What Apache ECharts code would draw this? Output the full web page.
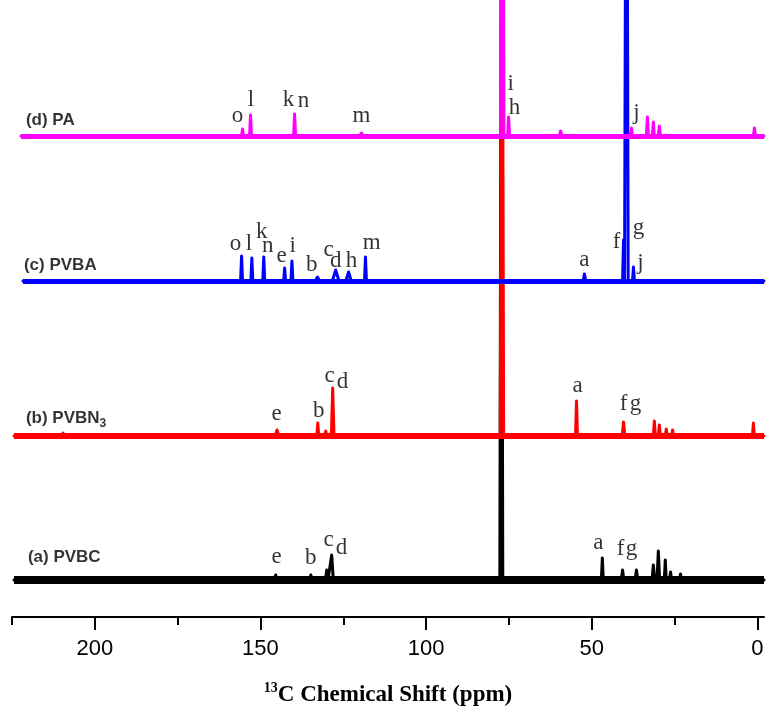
<!DOCTYPE html>
<html><head><meta charset="utf-8">
<script src="https://cdn.jsdelivr.net/npm/echarts@6/dist/echarts.min.js"></script>
<style>html,body{margin:0;padding:0;background:#fff}#c{width:766px;height:717px}</style>
</head><body><div id="c"></div>
<script>
// ---- axis ----
const xMajorTicks = [0, 50, 100, 150, 200];
const xMinorTicks = [25, 75, 125, 175, 225];
const xMin = -2, xMax = 225;

// ---- spectra: baseline offset (stack units), start ppm, peaks [ppm, height, halfWidth] ----
const baseA = 37,  startA = 224.4;   // (a) PVBC
const baseB = 181, startB = 224.4;   // (b) PVBN3
const baseC = 336, startC = 221.7;   // (c) PVBA
const baseD = 481, startD = 222.3;   // (d) PA

const peaksA = [[145.4,5,0.5],[134.8,5,0.5],[130,10,0.4],[128.5,25,0.5],[77.3,700,0.45],[46.8,22,0.3],[40.7,10,0.4],[36.5,10,0.4],[31.4,15,0.4],[29.9,29,0.4],[27.8,20,0.3],[26.2,8,0.3],[23.2,6,0.3]];
const peaksB = [[209.6,3,0.4],[145,6,0.6],[132.7,13,0.3],[130.3,5,0.3],[128.2,48,0.4],[77.1,700,0.5],[54.6,35,0.3],[40.4,14,0.4],[31.1,15,0.3],[29.6,11,0.3],[27.5,7,0.3],[25.6,6,0.3],[1.2,13,0.3]];
const peaksC = [[155.7,25,0.3],[152.6,23,0.3],[149,24,0.3],[142.7,13,0.3],[140.5,20,0.3],[132.8,4,0.6],[127.3,11,1.0],[123.4,9,0.8],[118.3,24,0.3],[52.2,7,0.4],[40.4,41,0.3],[39.5,700,0.5],[37.4,14,0.3]];
const peaksD = [[155.4,7,0.3],[153,21,0.3],[139.7,22,0.3],[119.5,3,0.5],[77.0,700,0.5],[75.1,19,0.3],[59.4,5,0.4],[38,8,0.3],[33.2,19,0.3],[31.4,14,0.3],[29.6,10,0.3],[0.9,8,0.3]];

// ---- peak assignment letters [letter, ppm, y] ----
const lettersA = [['e',145.1,60],['b',134.8,59],['c',129.4,77],['d',125.5,69],['a',48.0,74],['f',41.3,68],['g',38.0,68]];
const lettersB = [['e',145.1,203],['b',132.4,206],['c',129.1,241],['d',125.2,235],['a',54.3,231],['f',40.4,213],['g',36.8,213]];
const lettersC = [['o',157.5,373],['l',153.5,373],['k',149.6,385],['n',147.8,371],['e',143.6,361],['i',140.3,371],['b',134.5,352],['c',129.4,367],['d',127.3,356],['h',122.5,356],['m',116.4,374],['a',52.2,357],['f',42.5,375],['g',35.9,389],['j',35.3,354]];
const lettersD = [['o',156.9,501],['l',152.9,517],['k',141.5,517],['n',137.0,516],['m',119.5,501],['i',74.5,533],['h',73.3,509],['j',36.5,504]];

// ---- spectrum names [name, ppm, y] ----
const names = [['(a) PVBC',220.2,60],['(b) PVBN|3',220.8,199],['(c) PVBA',221.4,352],['(d) PA',220.8,497]];

const colors = {A:'#000000', B:'#ff0000', C:'#0000ff', D:'#ff00ff'};

function buildTrace(start, base, peaks) {
  const pts = [[start, base]];
  const sorted = peaks.slice().sort((a,b)=>b[0]-a[0]);
  for (const [p,h,w] of sorted) {
    pts.push([p+w, base], [p, base+h], [p-w, base]);
  }
  pts.push([xMin, base]);
  return pts;
}

function traceSeries(id, start, base, peaks, color, band, z) {
  return {
    type:'line', name:id, data: buildTrace(start, base, peaks),
    showSymbol:false, symbol:'none', silent:true, z:z, clip:true,
    lineStyle:{color:color, width:3, join:'round', cap:'round'},
    markLine:{silent:true, symbol:['none','none'], label:{show:false},
      lineStyle:{color:color, width:band, type:'solid'}, emphasis:{disabled:true},
      data:[[{coord:[start, base]},{coord:[xMin, base]}]]},
    animation:false
  };
}

const serif = "'Liberation Serif','Times New Roman',serif";
const sans = "'Liberation Sans',Arial,sans-serif";

function letterSeries(list) {
  return {
    type:'scatter', symbolSize:0, silent:true, z:20, animation:false,
    data: list.map(([t,x,y])=>({value:[x,y], label:{formatter:t}})),
    label:{show:true, position:'inside', color:'#000', fontFamily:serif, fontSize:23}
  };
}

const nameSeries = {
  type:'scatter', symbolSize:0, silent:true, z:20, animation:false,
  data: names.map(([t,x,y])=>{
    const parts = t.split('|');
    const f = parts.length>1 ? '{b|'+parts[0]+'}{s|'+parts[1]+'}' : '{b|'+parts[0]+'}';
    return {value:[x,y], label:{formatter:f}};
  }),
  label:{show:true, position:'right', distance:0,
    rich:{
      b:{fontFamily:sans, fontWeight:'bold', fontSize:17, color:'#000', lineHeight:20},
      s:{fontFamily:sans, fontWeight:'bold', fontSize:12, color:'#000', lineHeight:20, padding:[12,0,0,0]}
    }}
};

const chart = echarts.init(document.getElementById('c'), null, {renderer:'canvas'});
chart.setOption({
  backgroundColor:'#ffffff',
  animation:false,
  grid:{left:12, right:2, top:0, bottom:100, containLabel:false, outerBoundsMode:'none'},
  xAxis:[{
    type:'value', inverse:true, min:xMin, max:xMax, position:'bottom',
    axisLine:{show:true, onZero:false, lineStyle:{color:'#000', width:2}},
    axisTick:{show:true, length:13, customValues:xMajorTicks, lineStyle:{color:'#000', width:2}},
    axisLabel:{show:true, customValues:xMajorTicks, margin:21, color:'#000', fontFamily:sans, fontSize:22},
    splitLine:{show:false},
    name:'{sup|13}{t|C Chemical Shift (ppm)}', nameLocation:'middle', nameGap:64,
    nameTextStyle:{rich:{
      sup:{fontFamily:serif, fontWeight:'bold', fontSize:14, color:'#000', verticalAlign:'top', lineHeight:28, padding:[0,0,10,0]},
      t:{fontFamily:serif, fontWeight:'bold', fontSize:23, color:'#000', lineHeight:28}
    }}
  },{
    type:'value', inverse:true, min:xMin, max:xMax, position:'bottom', gridIndex:0,
    axisLine:{show:false},
    axisTick:{show:true, length:8, customValues:xMinorTicks, lineStyle:{color:'#000', width:2}},
    axisLabel:{show:false}, splitLine:{show:false}
  }],
  yAxis:{type:'value', min:0, max:617, show:false},
  series:[
    traceSeries('A', startA, baseA, peaksA, colors.A, 8, 2),
    traceSeries('C', startC, baseC, peaksC, colors.C, 5, 3),
    traceSeries('B', startB, baseB, peaksB, colors.B, 6, 4),
    traceSeries('D', startD, baseD, peaksD, colors.D, 5, 5),
    letterSeries(lettersA), letterSeries(lettersB), letterSeries(lettersC), letterSeries(lettersD),
    nameSeries
  ]
});
</script></body></html>
